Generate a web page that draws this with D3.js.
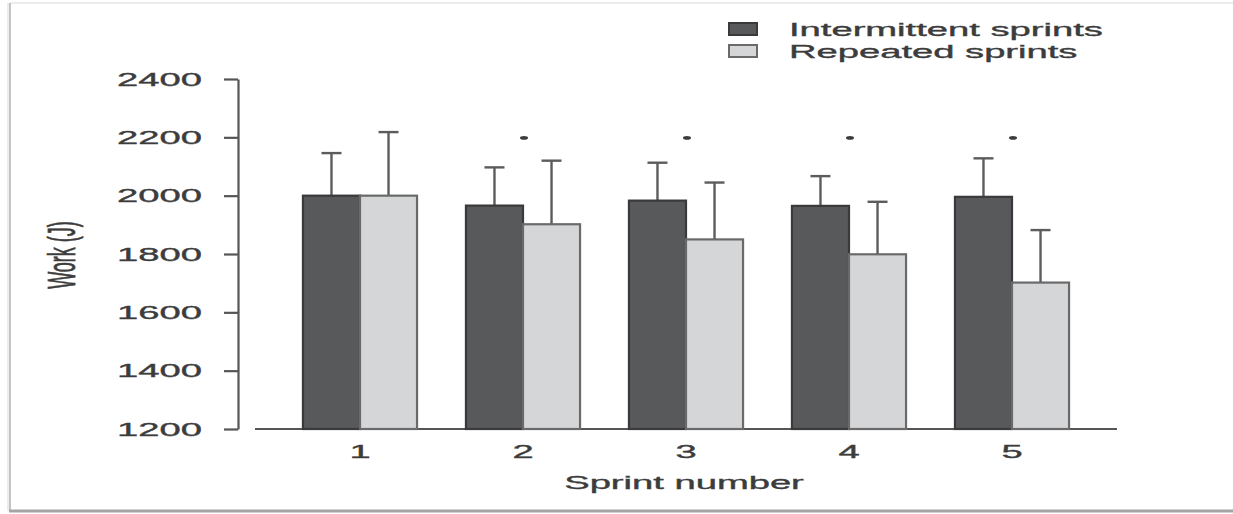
<!DOCTYPE html>
<html>
<head>
<meta charset="utf-8">
<script src="https://cdn.jsdelivr.net/npm/d3@7"></script>
<style>
  body { margin: 0; background: #fff; }
  text { font-family: "Liberation Sans", Arial, sans-serif; fill: #3c3c3c; stroke: #3c3c3c; stroke-width: 0.35px; }
</style>
</head>
<body>
<div id="container"></div>
<script>
let w = 1233;
let h = 514;
let stretch = 2.12; // the figure is stretched horizontally

let sprints = ["1", "2", "3", "4", "5"];
let intermittent = [2000, 1966, 1983, 1965, 1996];
let intermittentSD = [146, 131, 130, 102, 132];
let repeated = [2000, 1902, 1850, 1799, 1702];
let repeatedSD = [218, 218, 195, 180, 180];
let significant = [false, true, true, true, true];
let starLevel = 2198;
let yTicks = [1200, 1400, 1600, 1800, 2000, 2200, 2400];
let seriesNames = ["Intermittent sprints", "Repeated sprints"];

let fills = ["#58595b", "#d5d6d8"];
let strokes = ["#3a3a3c", "#6a6a6a"];

let viz = d3.select("#container")
  .append("svg")
  .attr("width", w)
  .attr("height", h)
  .style("display", "block");

// picture frame
viz.append("line").attr("x1", 10).attr("x2", w).attr("y1", 3).attr("y2", 3)
  .attr("stroke", "#ececec").attr("stroke-width", 2);
viz.append("line").attr("x1", 10).attr("x2", 10).attr("y1", 3).attr("y2", 511)
  .attr("stroke", "#c4c4c4").attr("stroke-width", 2);
viz.append("line").attr("x1", 8).attr("x2", 8).attr("y1", 3).attr("y2", 511)
  .attr("stroke", "#ececec").attr("stroke-width", 2);
viz.append("line").attr("x1", 9).attr("x2", w).attr("y1", 511).attr("y2", 511)
  .attr("stroke", "#a4a4a4").attr("stroke-width", 3);

let yScale = d3.scaleLinear().domain([1200, 2400]).range([429, 79]);
let xScale = d3.scaleBand().domain(sprints).range([278.5, 1093.5])
  .paddingInner(0.3).paddingOuter(0.15);
let xInner = d3.scaleBand().domain([0, 1]).range([0, xScale.bandwidth()]);

// y axis
let yAxis = viz.append("g")
  .attr("transform", "translate(238, 0)")
  .call(d3.axisLeft(yScale).tickValues(yTicks).tickFormat(d3.format("d"))
    .tickSize(14).tickSizeOuter(0));
yAxis.select(".domain").attr("stroke", "#555").attr("stroke-width", 2.2);
yAxis.selectAll(".tick line").attr("stroke", "#555").attr("stroke-width", 2.2);
yAxis.selectAll(".tick text")
  .attr("x", null).attr("dy", "0.35em")
  .attr("text-anchor", "end")
  .attr("transform", `translate(-36, 0) scale(${stretch}, 1)`)
  .style("font-size", "18px")
  .style("font-family", "'Liberation Sans', Arial, sans-serif");

// x baseline
viz.append("line")
  .attr("x1", 255).attr("x2", 1117)
  .attr("y1", yScale(1200)).attr("y2", yScale(1200))
  .attr("stroke", "#555").attr("stroke-width", 2.2);

let rows = sprints.map((s, i) => ({
  sprint: s,
  values: [intermittent[i], repeated[i]],
  sds: [intermittentSD[i], repeatedSD[i]],
  sig: significant[i]
}));

let groups = viz.selectAll(".sprint-group")
  .data(rows)
  .enter()
  .append("g")
  .attr("class", "sprint-group")
  .attr("transform", d => `translate(${xScale(d.sprint)}, 0)`);

groups.each(function(d) {
  let group = d3.select(this);
  d.values.forEach((v, k) => {
    let cx = xInner(k) + xInner.bandwidth() / 2;
    let top = yScale(v + d.sds[k]);
    // error bar
    group.append("line")
      .attr("x1", cx).attr("x2", cx)
      .attr("y1", yScale(v)).attr("y2", top)
      .attr("stroke", "#5c5c5c").attr("stroke-width", 2.4);
    group.append("line")
      .attr("x1", cx - 10).attr("x2", cx + 10)
      .attr("y1", top).attr("y2", top)
      .attr("stroke", "#5c5c5c").attr("stroke-width", 2.4);
    group.append("rect")
      .attr("x", xInner(k))
      .attr("y", yScale(v))
      .attr("width", xInner.bandwidth())
      .attr("height", yScale(1200) - yScale(v))
      .attr("fill", fills[k])
      .attr("stroke", strokes[k])
      .attr("stroke-width", 2.2);
  });

  if (d.sig) {
    group.append("ellipse")
      .attr("cx", xScale.bandwidth() / 2 + 1)
      .attr("cy", yScale(starLevel))
      .attr("rx", 4).attr("ry", 1.8)
      .attr("fill", "#3c3c3c");
  }

  group.append("text")
    .text(d.sprint)
    .attr("text-anchor", "middle")
    .attr("transform", `translate(${xScale.bandwidth() / 2}, 458) scale(${stretch}, 1)`)
    .style("font-size", "18px");
});

// axis titles
viz.append("text")
  .text("Sprint number")
  .attr("text-anchor", "middle")
  .attr("transform", `translate(684, 489) scale(${stretch}, 1)`)
  .style("font-size", "18px");

viz.append("text")
  .text("Work (J)")
  .attr("text-anchor", "middle")
  .attr("transform", `translate(75, 255) scale(${stretch}, 1) rotate(-90)`)
  .style("font-size", "18px");

// legend
let legend = viz.selectAll(".legend")
  .data(seriesNames)
  .enter()
  .append("g")
  .attr("class", "legend")
  .attr("transform", (d, i) => `translate(729, ${23 + i * 22})`);

legend.append("rect")
  .attr("width", 28).attr("height", 12)
  .attr("fill", (d, i) => fills[i])
  .attr("stroke", (d, i) => strokes[i])
  .attr("stroke-width", 2);

legend.append("text")
  .text(d => d)
  .attr("transform", `translate(60, 13) scale(${stretch}, 1)`)
  .style("font-size", "18px");
</script>
</body>
</html>
